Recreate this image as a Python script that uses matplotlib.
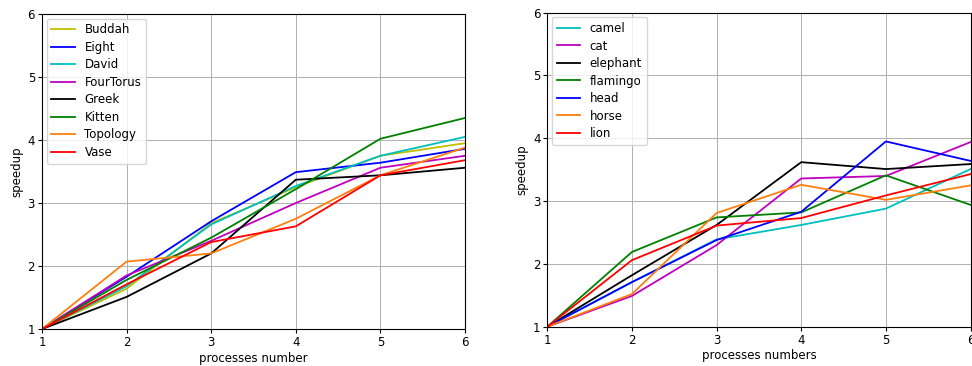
import matplotlib
matplotlib.use('Agg')
import matplotlib.pyplot as plt

procs = [1, 2, 3, 4, 5, 6]

# left plot: meshes set 1
left_names = ['Buddah', 'Eight', 'David', 'FourTorus', 'Greek', 'Kitten', 'Topology', 'Vase']
left_colors = ['y', 'b', 'c', 'm', 'k', 'g', 'C1', 'r']
buddah = [1, 1.64, 2.68, 3.25, 3.75, 3.95]
eight = [1, 1.83, 2.71, 3.49, 3.64, 3.86]
david = [1, 1.68, 2.66, 3.27, 3.75, 4.05]
fourtorus = [1, 1.85, 2.40, 3.00, 3.56, 3.75]
greek = [1, 1.51, 2.20, 3.37, 3.44, 3.56]
kitten = [1, 1.78, 2.45, 3.22, 4.02, 4.35]
topology = [1, 2.07, 2.20, 2.75, 3.44, 3.88]
vase = [1, 1.71, 2.38, 2.63, 3.44, 3.68]
left_vals = [buddah, eight, david, fourtorus, greek, kitten, topology, vase]

# right plot: meshes set 2
right_names = ['camel', 'cat', 'elephant', 'flamingo', 'head', 'horse', 'lion']
right_colors = ['c', 'm', 'k', 'g', 'b', 'C1', 'r']
camel = [1, 1.71, 2.39, 2.62, 2.88, 3.51]
cat = [1, 1.49, 2.30, 3.36, 3.40, 3.94]
elephant = [1, 1.82, 2.62, 3.62, 3.51, 3.59]
flamingo = [1, 2.19, 2.74, 2.82, 3.41, 2.94]
head = [1, 1.71, 2.38, 2.83, 3.95, 3.64]
horse = [1, 1.52, 2.81, 3.26, 3.02, 3.25]
lion = [1, 2.06, 2.61, 2.73, 3.09, 3.43]
right_vals = [camel, cat, elephant, flamingo, head, horse, lion]

plt.rcParams['font.size'] = 8.5
fig = plt.figure(figsize=(9.72, 3.66), dpi=100)
ax1 = fig.add_axes([0.0432, 0.101, 0.4352, 0.8607])
ax2 = fig.add_axes([0.5631, 0.1074, 0.4354, 0.8579])

for ax, names, cols, vals, xl in [(ax1, left_names, left_colors, left_vals, 'processes number'),
                                  (ax2, right_names, right_colors, right_vals, 'processes numbers')]:
    for n, c, v in zip(names, cols, vals):
        ax.plot(procs, v, color=c, label=n, lw=1.3)
    ax.set_xlim(1, 6)
    ax.set_ylim(1, 6)
    ax.set_xticks(procs)
    ax.set_yticks([1, 2, 3, 4, 5, 6])
    ax.grid(True, color='#b0b0b0', lw=0.7)
    ax.set_xlabel(xl, labelpad=2)
    ax.set_ylabel('speedup', labelpad=3)
    ax.tick_params(length=3, pad=2)
    ax.legend(loc='upper left', fancybox=True, framealpha=0.8, handlelength=2,
              labelspacing=0.38, borderaxespad=0.4)

fig.savefig('out.png', dpi=100)
